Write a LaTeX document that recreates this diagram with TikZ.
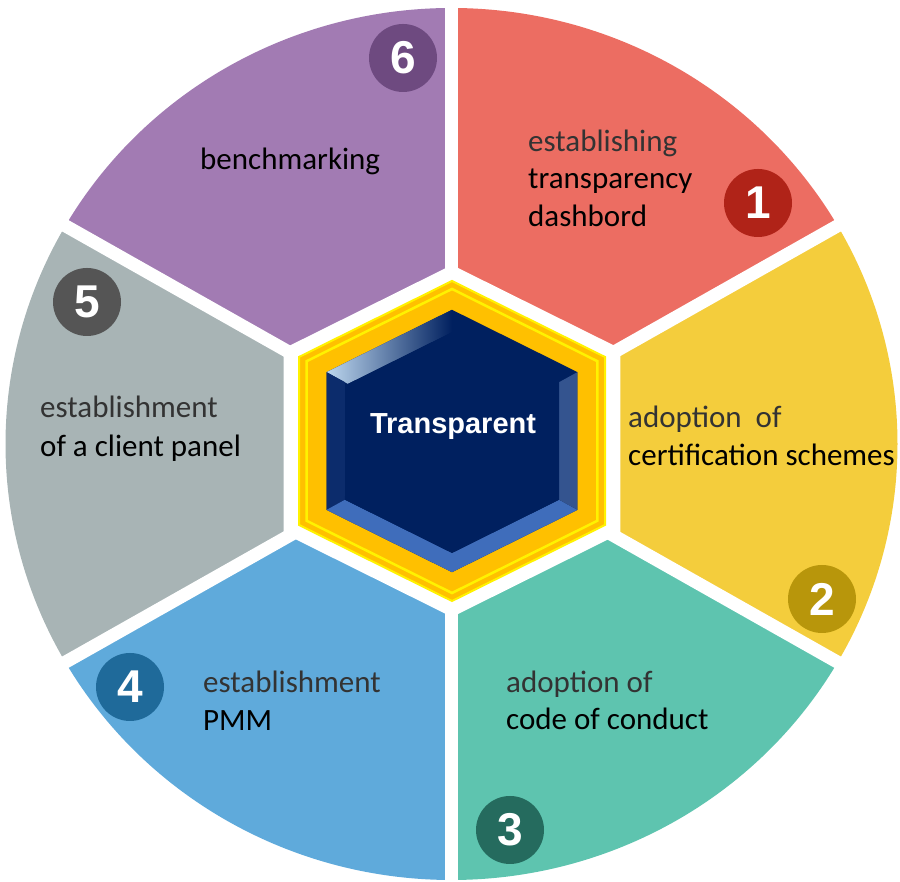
\documentclass[tikz,border=0pt]{standalone}
\usepackage{fontspec}
\setmainfont{Carlito}
\newfontfamily\arialfont{Liberation Sans}
\usetikzlibrary{positioning}

\definecolor{redpart}{HTML}{EC6D62}
\definecolor{yellowpart}{HTML}{F4CD3C}
\definecolor{greenpart}{HTML}{5EC4AF}
\definecolor{bluepart}{HTML}{5FAADB}
\definecolor{graypart}{HTML}{A8B4B5}
\definecolor{purplepart}{HTML}{A27BB3}
\definecolor{redbadge}{HTML}{B02318}
\definecolor{yellowbadge}{HTML}{B8960B}
\definecolor{greenbadge}{HTML}{256B5E}
\definecolor{bluebadge}{HTML}{1F6A9A}
\definecolor{graybadge}{HTML}{555555}
\definecolor{purplebadge}{HTML}{6E4A80}
\definecolor{navyface}{HTML}{00205F}
\definecolor{facetlight}{HTML}{BDD7EE}
\definecolor{facetleft}{HTML}{0C2C6C}
\definecolor{facetlow}{HTML}{3F6DBB}
\definecolor{facetright}{HTML}{34548F}
\definecolor{goldring}{HTML}{FFC000}
\definecolor{goldedge}{HTML}{FFF200}

\def\hexagon{(0,160) -- (-153,84) -- (-153,-84) -- (0,-160) -- (153,-84) -- (153,84) -- cycle}

\tikzstyle{badge}=[circle, minimum size=68pt, inner sep=0, text=white,
    font=\arialfont\bfseries\fontsize{46}{46}\selectfont]
\tikzstyle{thinline}=[anchor=base west, inner sep=0, text=black!80,
    font=\fontsize{31}{37}\selectfont]
\tikzstyle{mainline}=[anchor=base west, inner sep=0, text=black,
    font=\fontsize{31}{37}\selectfont]

\begin{document}
\begin{tikzpicture}[x=1pt,y=1pt]

        \useasboundingbox (0,0) rectangle (900,882);
        \coordinate (C) at (451.5,438);

% Sectors
        \foreach \a/\col in {30/redpart, 90/purplepart, 150/graypart,
                             210/bluepart, 270/greenpart, 330/yellowpart}
            \fill[\col] (C) -- ++(\a:446pt and 436pt)
                arc[start angle=\a, end angle=\a+60, x radius=446pt, y radius=436pt] -- cycle;

        \foreach \a in {30,90,...,330}
            \draw[white, line width=13pt] (C) -- ++(\a:470pt and 460pt);

% Centre hexagon
        \begin{scope}[shift={(452,441)}]
            \fill[white, scale=1.1] \hexagon;
            \fill[goldring, draw=goldedge, line width=2pt] \hexagon;
            \draw[goldedge, line width=2.5pt, scale=0.95] \hexagon;
            \fill[navyface, scale=0.82] \hexagon;
            \shade[left color=facetlight, right color=navyface]
                ({0.82*0},{0.82*160}) -- ({0.82*-153},{0.82*84})
                -- ({0.68*-153},{0.68*84}) -- ({0.68*0},{0.68*160}) -- cycle;
            \foreach \xa/\ya/\xb/\yb/\col in {-153/84/-153/-84/facetleft,
                    -153/-84/0/-160/facetlow, 0/-160/153/-84/facetlow,
                    153/-84/153/84/facetright}
                \fill[\col] ({0.82*\xa},{0.82*\ya}) -- ({0.82*\xb},{0.82*\yb})
                    -- ({0.7*\xb},{0.7*\yb}) -- ({0.7*\xa},{0.7*\ya}) -- cycle;
            \fill[navyface] (0,{0.68*160}) -- ({0.68*-153},{0.68*84})
                -- ({0.7*-153},{0.7*-84}) -- (0,{0.7*-160}) -- ({0.7*153},{0.7*-84})
                -- ({0.7*153},{0.7*84}) -- cycle;
        \end{scope}

        \node[text=white,
            font=\arialfont\bfseries\fontsize{29}{29}\selectfont] (centre) at (453,455) {Transparent};

% Badges
        \node[badge, fill=redbadge] (b1) at (758,679) {1};
        \node[badge, fill=yellowbadge] (b2) at (822,283) {2};
        \node[badge, fill=greenbadge] (b3) at (510,52) {3};
        \node[badge, fill=bluebadge] (b4) at (130,195) {4};
        \node[badge, fill=graybadge] (b5) at (87,580) {5};
        \node[badge, fill=purplebadge] (b6) at (403,824) {6};

% Texts
        \node[thinline] (t1a) at (528,730) {establishing};
        \node[mainline] (t1b) at ([yshift=-37pt]t1a.base west) {transparency};
        \node[mainline] (t1c) at ([yshift=-38pt]t1b.base west) {dashbord};

        \node[thinline] (t2a) at (628,454) {adoption\ \ of};
        \node[mainline] (t2b) at ([yshift=-38pt]t2a.base west) {certification schemes};

        \node[thinline] (t3a) at (506,189) {adoption of};
        \node[mainline] (t3b) at ([yshift=-37pt]t3a.base west) {code of conduct};

        \node[thinline] (t4a) at (203,189) {establishment};
        \node[mainline] (t4b) at ([yshift=-38pt]t4a.base west) {PMM};

        \node[thinline] (t5a) at (40,464) {establishment};
        \node[mainline] (t5b) at ([yshift=-39pt]t5a.base west) {of a client panel};

        \node[mainline] (t6a) at (200,712) {benchmarking};

\end{tikzpicture}
\end{document}
